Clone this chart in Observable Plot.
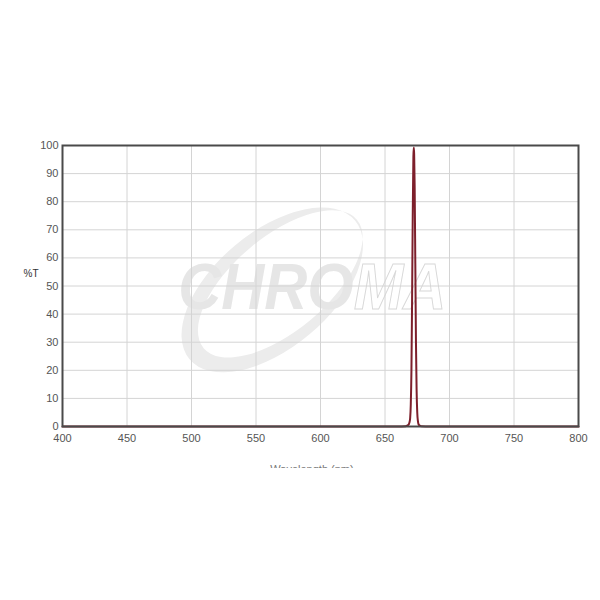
<!DOCTYPE html>
<html>
<head>
<meta charset="utf-8">
<script src="https://cdn.jsdelivr.net/npm/d3@7"></script>
<script src="https://cdn.jsdelivr.net/npm/@observablehq/plot@0.6"></script>
<style>
  html, body { margin: 0; padding: 0; background: #fff; }
  #wrap { position: relative; width: 600px; height: 600px; background: #fff; }
  #xtitle { position: absolute; top: 465px; left: 262px; width: 100px; height: 3px; overflow: hidden; }
  #xtitle div { margin-top: -2px; font: 11px "Liberation Sans", Arial, sans-serif; color: #777; text-align: center; line-height: 13px; }
</style>
</head>
<body>
<div id="wrap">
  <div id="chart"></div>
  <div id="xtitle"><div>Wavelength (nm)</div></div>
</div>
<script>
// Data (transmission %T vs wavelength nm)
const wavelength = [400, 500, 600, 650, 660, 666, 668, 669, 669.5, 670, 670.5, 671, 671.5, 672, 672.3, 672.6, 673, 673.5, 674, 674.5, 675, 675.5, 676, 677, 678, 685, 700, 750, 800];
const transmission = [0, 0, 0, 0, 0, 0.1, 0.5, 1.5, 3, 8, 20, 45, 75, 96, 99.3, 97, 85, 58, 30, 13, 5, 2, 0.8, 0.3, 0.1, 0, 0, 0, 0];
const xTicks = [400, 450, 500, 550, 600, 650, 700, 750, 800];
const yTicks = [0, 10, 20, 30, 40, 50, 60, 70, 80, 90, 100];
const yLabel = "%T";
const watermarkText = "CHROMA";
const watermarkCenter = [563, 49.5]; // in data units (nm, %T)

const data = wavelength.map((w, i) => ({w, t: transmission[i]}));

const font = '"Liberation Sans", Arial, sans-serif';
const chart = Plot.plot({
  width: 600,
  height: 480,
  marginLeft: 62,
  marginRight: 22,
  marginTop: 145,
  marginBottom: 54,
  style: {fontFamily: font, fontSize: "11px", background: "#fff", color: "#555"},
  x: {domain: [400, 800]},
  y: {domain: [0, 100]},
  marks: [
    Plot.gridX(xTicks, {stroke: "#d4d4d4", strokeOpacity: 1, strokeWidth: 1}),
    Plot.gridY(yTicks, {stroke: "#d4d4d4", strokeOpacity: 1, strokeWidth: 1}),
    Plot.line(data, {x: "w", y: "t", stroke: "#7d1f2b", strokeWidth: 2, curve: "monotone-x"}),
    Plot.frame({stroke: "#4a4a4a", strokeWidth: 2}),
    Plot.axisX(xTicks, {tickSize: 0, tickPadding: 8, label: null, fill: "#555", fontSize: 11}),
    Plot.axisY(yTicks, {tickSize: 0, tickPadding: 4, label: null, fill: "#555", fontSize: 11}),
    Plot.text([yLabel], {frameAnchor: "left", dx: -24, dy: -12, textAnchor: "end", fill: "#333", fontSize: 10, text: d => d})
  ]
});

// Watermark (drawn behind the grid)
const sx = chart.scale("x"), sy = chart.scale("y");
const cx = sx.apply(watermarkCenter[0]), cy = sy.apply(watermarkCenter[1]);
const svg = d3.select(chart);
const firstG = chart.querySelector("g");
const wm = svg.insert("g", () => firstG).attr("aria-label", "watermark");
const ell = (x, y, rx, ry, rot) => {
  const a = rot * Math.PI / 180;
  return `M${x - rx * Math.cos(a)},${y - rx * Math.sin(a)} a${rx},${ry} ${rot} 1,0 ${2 * rx * Math.cos(a)},${2 * rx * Math.sin(a)} a${rx},${ry} ${rot} 1,0 ${-2 * rx * Math.cos(a)},${-2 * rx * Math.sin(a)}Z`;
};
wm.append("path")
  .attr("d", ell(cx - 0, cy + 3, 108, 58, -40) + ell(cx + 8, cy - 3, 100, 47, -40))
  .attr("fill", "#ececec").attr("fill-rule", "evenodd");
const t = wm.append("text")
  .attr("x", cx - 94).attr("y", cy + 22).attr("text-anchor", "start")
  .attr("font-family", font).attr("font-style", "italic").attr("font-weight", "bold")
  .attr("font-size", 64).attr("textLength", 268).attr("lengthAdjust", "spacingAndGlyphs");
t.append("tspan").attr("fill", "#e6e6e6").text(watermarkText.slice(0, 4));
t.append("tspan").attr("fill", "none").attr("stroke", "#d8d8d8").attr("stroke-width", 1).text(watermarkText.slice(4));

document.getElementById("chart").appendChild(chart);
</script>
</body>
</html>
